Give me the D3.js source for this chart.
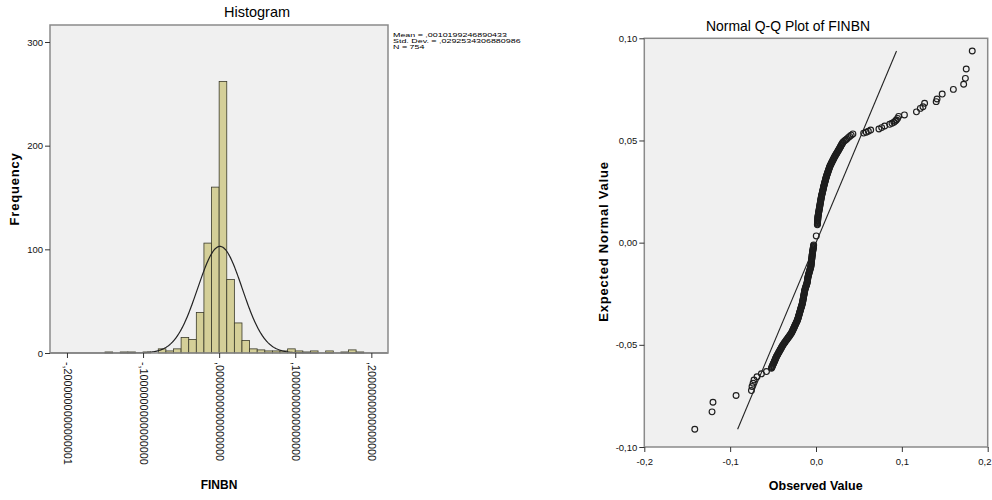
<!DOCTYPE html>
<html><head><meta charset="utf-8">
<script src="https://cdn.jsdelivr.net/npm/d3@7"></script>
<style>
body{margin:0;background:#fff;}
svg{display:block;font-family:"Liberation Sans",Arial,sans-serif;}
</style></head><body>
<svg id="c" width="992" height="500"></svg>
<script>
// ---------------- Histogram data ----------------
const histLower = [-0.15,-0.14,-0.13,-0.12,-0.11,-0.10,-0.09,-0.08,-0.07,-0.06,-0.05,-0.04,-0.03,-0.02,-0.01,
  0.00,0.01,0.02,0.03,0.04,0.05,0.06,0.07,0.08,0.09,0.10,0.11,0.12,0.13,0.14,0.15,0.16,0.17,0.18];
const histCounts = [1,0,1,1,0,1,0,4,2,4,15,13,39,106,160,
  262,71,29,12,4,3,2,2,2,4,2,1,2,0,2,0,1,3,1];
const histBinWidth = 0.01;
const histXTicks = [-0.2,-0.1,0,0.1,0.2];
const histXTickLabels = ["-,2000000000000001","-,1000000000000000",",0000000000000000",",1000000000000000",",2000000000000000"];
const histYTicks = [0,100,200,300];
const statsLines = ["Mean = ,0010199246890433","Std. Dev. = ,0292534306880986","N = 754"];
const fitMean = 0.0010199246890433, fitSd = 0.0292534306880986, fitN = 754;

// ---------------- Q-Q data: [observed, expected] ----------------
const qqXTicks = [-0.2,-0.1,0,0.1,0.2];
const qqXTickLabels = ["-0,2","-0,1","0,0","0,1","0,2"];
const qqYTicks = [-0.1,-0.05,0,0.05,0.1];
const qqYTickLabels = ["-0,10","-0,05","0,00","0,05","0,10"];
const qqPoints = [
 [-0.1412,-0.0913],[-0.1211,-0.0828],[-0.1200,-0.0781],[-0.0931,-0.0748],[-0.0752,-0.0724],
 [-0.0745,-0.0704],[-0.0733,-0.0688],[-0.0722,-0.0672],[-0.0687,-0.0656],[-0.0636,-0.0642],[-0.0577,-0.0631],
 [-0.0519,-0.0615],[-0.0511,-0.0607],[-0.0503,-0.0599],[-0.0495,-0.0591],[-0.0486,-0.0583],[-0.0478,-0.0575],
 [-0.0470,-0.0567],[-0.0462,-0.0559],[-0.0452,-0.0551],[-0.0441,-0.0543],[-0.0431,-0.0535],[-0.0420,-0.0527],
 [-0.0409,-0.0519],[-0.0399,-0.0511],[-0.0388,-0.0503],[-0.0375,-0.0495],[-0.0362,-0.0487],[-0.0348,-0.0479],
 [-0.0334,-0.0471],[-0.0320,-0.0463],[-0.0307,-0.0455],[-0.0293,-0.0447],[-0.0282,-0.0439],[-0.0273,-0.0431],
 [-0.0264,-0.0423],[-0.0255,-0.0415],[-0.0247,-0.0407],[-0.0238,-0.0399],[-0.0229,-0.0391],[-0.0220,-0.0383],
 [-0.0213,-0.0375],[-0.0207,-0.0367],[-0.0202,-0.0359],[-0.0196,-0.0351],[-0.0191,-0.0343],[-0.0185,-0.0335],
 [-0.0180,-0.0327],[-0.0174,-0.0319],[-0.0168,-0.0311],[-0.0163,-0.0303],[-0.0158,-0.0295],[-0.0154,-0.0287],
 [-0.0151,-0.0279],[-0.0147,-0.0271],[-0.0144,-0.0263],[-0.0140,-0.0255],[-0.0137,-0.0247],[-0.0133,-0.0239],
 [-0.0130,-0.0231],[-0.0124,-0.0223],[-0.0118,-0.0215],[-0.0111,-0.0207],[-0.0105,-0.0199],[-0.0102,-0.0191],
 [-0.0099,-0.0183],[-0.0096,-0.0175],[-0.0093,-0.0167],[-0.0088,-0.0159],[-0.0083,-0.0151],[-0.0077,-0.0143],
 [-0.0072,-0.0135],[-0.0067,-0.0127],[-0.0061,-0.0119],[-0.0058,-0.0111],[-0.0056,-0.0103],[-0.0054,-0.0095],
 [-0.0052,-0.0087],[-0.0049,-0.0079],[-0.0047,-0.0071],[-0.0045,-0.0063],[-0.0043,-0.0055],[-0.0040,-0.0047],
 [-0.0037,-0.0039],[-0.0034,-0.0031],[-0.0031,-0.0023],[-0.0028,-0.0015],[-0.0027,-0.0011],
 [0.0003,0.0033],
 [0.0016,0.0087],[0.0017,0.0095],[0.0019,0.0103],[0.0020,0.0111],[0.0022,0.0119],[0.0023,0.0127],[0.0026,0.0135],
 [0.0030,0.0143],[0.0033,0.0151],[0.0036,0.0159],[0.0039,0.0167],[0.0043,0.0175],[0.0046,0.0183],[0.0049,0.0191],
 [0.0052,0.0199],[0.0056,0.0207],[0.0059,0.0215],[0.0062,0.0223],[0.0066,0.0231],[0.0071,0.0239],[0.0075,0.0247],
 [0.0080,0.0255],[0.0084,0.0263],[0.0088,0.0271],[0.0093,0.0279],[0.0098,0.0287],[0.0103,0.0295],[0.0108,0.0303],
 [0.0113,0.0311],[0.0118,0.0319],[0.0124,0.0327],[0.0130,0.0335],[0.0137,0.0343],[0.0143,0.0351],[0.0150,0.0359],
 [0.0156,0.0367],[0.0163,0.0375],[0.0173,0.0383],[0.0182,0.0391],[0.0192,0.0399],[0.0201,0.0407],[0.0211,0.0415],
 [0.0221,0.0423],[0.0232,0.0431],[0.0244,0.0439],[0.0255,0.0447],[0.0266,0.0455],[0.0277,0.0463],[0.0287,0.0471],
 [0.0298,0.0479],[0.0309,0.0487],[0.0314,0.0491],
 [0.0330,0.0497],[0.0345,0.0502],[0.0360,0.0507],[0.0376,0.0514],[0.0392,0.0520],[0.0410,0.0526],[0.0430,0.0532],
 [0.0555,0.0536],[0.0585,0.0540],[0.0610,0.0545],[0.0637,0.0551],[0.0733,0.0556],[0.0765,0.0563],[0.0800,0.0571],
 [0.0858,0.0579],[0.0885,0.0584],[0.0908,0.0589],[0.0925,0.0595],[0.0936,0.0600],[0.0950,0.0608],[0.0963,0.0618],
 [0.1030,0.0625],[0.1170,0.0640],[0.1215,0.0657],[0.1246,0.0665],[0.1265,0.0682],[0.1400,0.0690],[0.1410,0.0703],
 [0.1470,0.0727],[0.1600,0.0750],[0.1720,0.0775],[0.1740,0.0804],[0.1750,0.0850],[0.1820,0.0938]
];
// additional points read from the solid (overlapping) part of the Q-Q band
const qqPointsDense = [
 [-0.0515,-0.0611],[-0.0507,-0.0603],[-0.0499,-0.0595],[-0.0490,-0.0587],[-0.0482,-0.0579],[-0.0474,-0.0571],
 [-0.0466,-0.0563],[-0.0457,-0.0555],[-0.0446,-0.0547],[-0.0436,-0.0539],[-0.0425,-0.0531],[-0.0414,-0.0523],
 [-0.0404,-0.0515],[-0.0393,-0.0507],[-0.0381,-0.0499],[-0.0368,-0.0491],[-0.0355,-0.0483],[-0.0341,-0.0475],
 [-0.0327,-0.0467],[-0.0313,-0.0459],[-0.0300,-0.0451],[-0.0287,-0.0443],[-0.0277,-0.0435],[-0.0268,-0.0427],
 [-0.0259,-0.0419],[-0.0251,-0.0411],[-0.0242,-0.0403],[-0.0233,-0.0395],[-0.0224,-0.0387],[-0.0216,-0.0379],
 [-0.0210,-0.0371],[-0.0204,-0.0363],[-0.0199,-0.0355],[-0.0193,-0.0347],[-0.0188,-0.0339],[-0.0182,-0.0331],
 [-0.0177,-0.0323],[-0.0171,-0.0315],[-0.0165,-0.0307],[-0.0160,-0.0299],[-0.0156,-0.0291],[-0.0152,-0.0283],
 [-0.0149,-0.0275],[-0.0145,-0.0267],[-0.0142,-0.0259],[-0.0138,-0.0251],[-0.0135,-0.0243],[-0.0131,-0.0235],
 [-0.0127,-0.0227],[-0.0121,-0.0219],[-0.0114,-0.0211],[-0.0108,-0.0203],[-0.0103,-0.0195],[-0.0100,-0.0187],
 [-0.0097,-0.0179],[-0.0094,-0.0171],[-0.0090,-0.0163],[-0.0085,-0.0155],[-0.0080,-0.0147],[-0.0074,-0.0139],
 [-0.0069,-0.0131],[-0.0064,-0.0123],[-0.0059,-0.0115],[-0.0057,-0.0107],[-0.0055,-0.0099],[-0.0053,-0.0091],
 [-0.0050,-0.0083],[-0.0048,-0.0075],[-0.0046,-0.0067],[-0.0044,-0.0059],[-0.0041,-0.0051],[-0.0038,-0.0043],
 [-0.0035,-0.0035],[-0.0032,-0.0027],[-0.0029,-0.0019],
 [0.0016,0.0091],[0.0018,0.0099],[0.0019,0.0107],[0.0021,0.0115],[0.0022,0.0123],[0.0024,0.0131],[0.0028,0.0139],
 [0.0031,0.0147],[0.0034,0.0155],[0.0037,0.0163],[0.0041,0.0171],[0.0044,0.0179],[0.0047,0.0187],[0.0050,0.0195],
 [0.0054,0.0203],[0.0057,0.0211],[0.0060,0.0219],[0.0064,0.0227],[0.0068,0.0235],[0.0073,0.0243],[0.0077,0.0251],
 [0.0082,0.0259],[0.0086,0.0267],[0.0090,0.0275],[0.0095,0.0283],[0.0100,0.0291],[0.0105,0.0299],[0.0110,0.0307],
 [0.0115,0.0315],[0.0121,0.0323],[0.0127,0.0331],[0.0133,0.0339],[0.0140,0.0347],[0.0146,0.0355],[0.0153,0.0363],
 [0.0160,0.0371],[0.0168,0.0379],[0.0177,0.0387],[0.0187,0.0395],[0.0196,0.0403],[0.0206,0.0411],[0.0216,0.0419],
 [0.0226,0.0427],[0.0238,0.0435],[0.0249,0.0443],[0.0260,0.0451],[0.0271,0.0459],[0.0282,0.0467],[0.0292,0.0475],
 [0.0303,0.0483]
];

const svg = d3.select("#c");
const frameColor = "#8a8a8a", bgColor = "#f0f0f0", ink = "#222";

// ================= HISTOGRAM =================
const hx = d3.scaleLinear().domain([-0.2223, 0.2219]).range([50, 388]);
const hy = d3.scaleLinear().domain([0, 316.4]).range([353, 25]);
const hg = svg.append("g");
hg.append("rect").attr("x", 50).attr("y", 25).attr("width", 338).attr("height", 328).attr("fill", bgColor);

const bins = histLower.map((lo, i) => ({lo, n: histCounts[i]})).filter(d => d.n > 0);
hg.selectAll("rect.bar").data(bins).enter().append("rect")
  .attr("class", "bar")
  .attr("x", d => hx(d.lo))
  .attr("width", d => hx(d.lo + histBinWidth) - hx(d.lo))
  .attr("y", d => hy(d.n))
  .attr("height", d => hy(0) - hy(d.n))
  .attr("fill", "#d4cf98").attr("stroke", "#3a3a2a").attr("stroke-width", 0.8);

// normal curve from the displayed mean / std. dev. / N
const pdf = x => fitN * histBinWidth * Math.exp(-0.5 * Math.pow((x - fitMean) / fitSd, 2)) / (fitSd * Math.sqrt(2 * Math.PI));
const xs = d3.range(hx.domain()[0], hx.domain()[1], 0.0008);
hg.append("path").datum(xs)
  .attr("d", d3.line().x(d => hx(d)).y(d => hy(pdf(d))))
  .attr("fill", "none").attr("stroke", ink).attr("stroke-width", 1.2);

hg.append("rect").attr("x", 50).attr("y", 25).attr("width", 338).attr("height", 328)
  .attr("fill", "none").attr("stroke", frameColor).attr("stroke-width", 1.5);

const hyAxis = hg.append("g").attr("transform", "translate(50,0)")
  .call(d3.axisLeft(hy).tickValues(histYTicks).tickSize(5).tickPadding(2));
hyAxis.select(".domain").remove();
hyAxis.selectAll("line").attr("stroke", "#333");
hyAxis.selectAll("text").attr("font-size", 9.5).attr("fill", "#111").attr("font-family", "Liberation Sans, Arial, sans-serif");

const hxAxis = hg.append("g").attr("transform", "translate(0,353)")
  .call(d3.axisBottom(hx).tickValues(histXTicks).tickSize(5).tickFormat((d, i) => histXTickLabels[i]));
hxAxis.select(".domain").remove();
hxAxis.selectAll("line").attr("stroke", "#333");
hxAxis.selectAll("text")
  .attr("transform", "rotate(90)").attr("x", 9).attr("y", 0).attr("dy", "0.35em")
  .style("text-anchor", "start")
  .attr("font-size", 10.8).attr("fill", "#111").attr("font-family", "Liberation Sans, Arial, sans-serif");

svg.append("text").attr("x", 257).attr("y", 17.3).attr("text-anchor", "middle")
  .attr("font-size", 14.5).attr("fill", "#000").text("Histogram");
svg.append("text").attr("x", 219).attr("y", 489).attr("text-anchor", "middle")
  .attr("font-size", 12).attr("font-weight", "bold").attr("fill", "#000").text("FINBN");
svg.append("text").attr("transform", "translate(19,189) rotate(-90)").attr("text-anchor", "middle")
  .attr("font-size", 13).attr("font-weight", "bold").attr("letter-spacing", 0.8).attr("fill", "#000").text("Frequency");

const statBase = [37.3, 42.9, 48.5];
svg.append("g").selectAll("text").data(statsLines).enter().append("text")
  .attr("transform", (d, i) => `translate(393,${statBase[i]}) scale(1,0.56)`)
  .attr("font-size", 8.9).attr("fill", "#000").text(d => d);

// ================= Q-Q PLOT =================
const qx = d3.scaleLinear().domain([-0.2, 0.2]).range([644.3, 987.7]);
const qy = d3.scaleLinear().domain([-0.1, 0.1]).range([447, 38.3]);
const qg = svg.append("g");
qg.append("rect").attr("x", 644.3).attr("y", 38.3).attr("width", 343.4).attr("height", 408.7).attr("fill", bgColor);

const allQQ = qqPoints.concat(qqPointsDense);
const eExt = d3.extent(allQQ, d => d[1]);
qg.append("line")
  .attr("x1", qx(eExt[0])).attr("y1", qy(eExt[0]))
  .attr("x2", qx(eExt[1])).attr("y2", qy(eExt[1]))
  .attr("stroke", ink).attr("stroke-width", 1.1);

qg.selectAll("circle").data(allQQ).enter().append("circle")
  .attr("cx", d => qx(d[0])).attr("cy", d => qy(d[1])).attr("r", 2.9)
  .attr("fill", "none").attr("stroke", "#1e1e1e").attr("stroke-width", 1.15);

qg.append("rect").attr("x", 644.3).attr("y", 38.3).attr("width", 343.4).attr("height", 408.7)
  .attr("fill", "none").attr("stroke", frameColor).attr("stroke-width", 1.5);

const qyAxis = qg.append("g").attr("transform", "translate(644.3,0)")
  .call(d3.axisLeft(qy).tickValues(qqYTicks).tickSize(5).tickPadding(2).tickFormat((d, i) => qqYTickLabels[i]));
qyAxis.select(".domain").remove();
qyAxis.selectAll("line").attr("stroke", "#333");
qyAxis.selectAll("text").attr("font-size", 9.5).attr("fill", "#111").attr("font-family", "Liberation Sans, Arial, sans-serif");

const qxAxis = qg.append("g").attr("transform", "translate(0,447)")
  .call(d3.axisBottom(qx).tickValues(qqXTicks).tickSize(5).tickPadding(6).tickFormat((d, i) => qqXTickLabels[i]));
qxAxis.select(".domain").remove();
qxAxis.selectAll("line").attr("stroke", "#333");
qxAxis.selectAll("text").attr("font-size", 9.5).attr("fill", "#111").attr("font-family", "Liberation Sans, Arial, sans-serif");
// keep the right-most label inside the 992px page
qxAxis.selectAll("text").filter((d, i) => i === qqXTicks.length - 1)
  .style("text-anchor", "end").attr("x", 991 - qx(qqXTicks[qqXTicks.length - 1]));

svg.append("text").attr("x", 788).attr("y", 30.7).attr("text-anchor", "middle")
  .attr("font-size", 14.5).attr("textLength", 164).attr("lengthAdjust", "spacingAndGlyphs")
  .attr("fill", "#000").text("Normal Q-Q Plot of FINBN");
svg.append("text").attr("x", 815.7).attr("y", 490).attr("text-anchor", "middle")
  .attr("font-size", 12.5).attr("font-weight", "bold").attr("fill", "#000").text("Observed Value");
svg.append("text").attr("transform", "translate(608,241.5) rotate(-90)").attr("text-anchor", "middle")
  .attr("font-size", 13).attr("font-weight", "bold").attr("letter-spacing", 0.8).attr("fill", "#000").text("Expected Normal Value");
</script>
</body></html>
